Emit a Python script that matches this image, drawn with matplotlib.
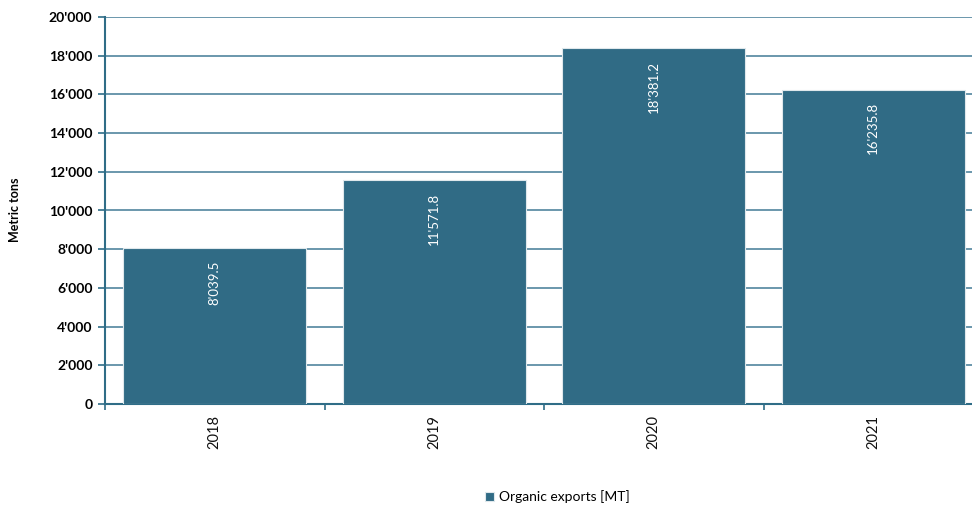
import matplotlib
matplotlib.use("Agg")
import matplotlib.pyplot as plt
from matplotlib.ticker import FuncFormatter, FixedLocator

years = ["2018", "2019", "2020", "2021"]
exports = [8039.5, 11571.8, 18381.2, 16235.8]
series_name = "Organic exports [MT]"
y_ticks = list(range(0, 20001, 2000))

plt.rcParams['font.family'] = ['Lato', 'DejaVu Sans']

def fmt_int(v, pos=None):
    return f"{int(round(v)):,}".replace(",", "'")

def fmt_val(v):
    return f"{v:,.1f}".replace(",", "'")

fig = plt.figure(figsize=(9.72, 5.09), dpi=100)
ax = fig.add_axes([105/972, 105/509, 878/972, 387/509])

bar_color = "#306b85"
x = range(len(years))
bars = ax.bar(x, exports, width=0.835, color=bar_color, edgecolor="#dfe8ec",
              linewidth=0.8, zorder=3, label=series_name)

for xi, v in zip(x, exports):
    ax.annotate(fmt_val(v), xy=(xi, v), xytext=(0, -9), textcoords="offset points",
                rotation=90, ha="center", va="top", color="white", fontsize=9.5, zorder=4)

ax.set_xlim(-0.5, 3.5)
ax.set_ylim(0, 20000)
ax.set_yticks(y_ticks)
ax.yaxis.set_major_formatter(FuncFormatter(fmt_int))
ax.yaxis.grid(True, color="#5f8fa6", linewidth=1.3, zorder=0)
ax.set_axisbelow(True)

ax.set_xticks(list(x))
ax.set_xticklabels(years, rotation=90, fontsize=10.5, color="#111111")
ax.tick_params(axis="x", length=0, pad=8)
ax.xaxis.set_minor_locator(FixedLocator([-0.5, 0.5, 1.5, 2.5, 3.5]))
ax.tick_params(axis="x", which="minor", length=4, color="#2f6d87", width=1.2)
ax.tick_params(axis="y", length=5, color="#2f6d87", width=1.2, labelsize=10, pad=4)
for lab in ax.get_yticklabels():
    lab.set_fontweight("bold")

for s in ["top", "right"]:
    ax.spines[s].set_visible(False)
ax.spines["left"].set_color("#2f6d87")
ax.spines["left"].set_linewidth(1.5)
ax.spines["bottom"].set_color("#2f6d87")
ax.spines["bottom"].set_linewidth(1.5)

fig.text(15/972, 1 - 210/509, "Metric tons", rotation=90, ha="center", va="center",
         fontsize=9, fontweight="bold")

handles, labels = ax.get_legend_handles_labels()
fig.legend(handles, labels, loc="center", bbox_to_anchor=(557/972, 1 - 497/509),
           frameon=False, fontsize=10, handlelength=0.7, handleheight=0.7,
           handletextpad=0.3)

fig.savefig("out.png", dpi=100)
